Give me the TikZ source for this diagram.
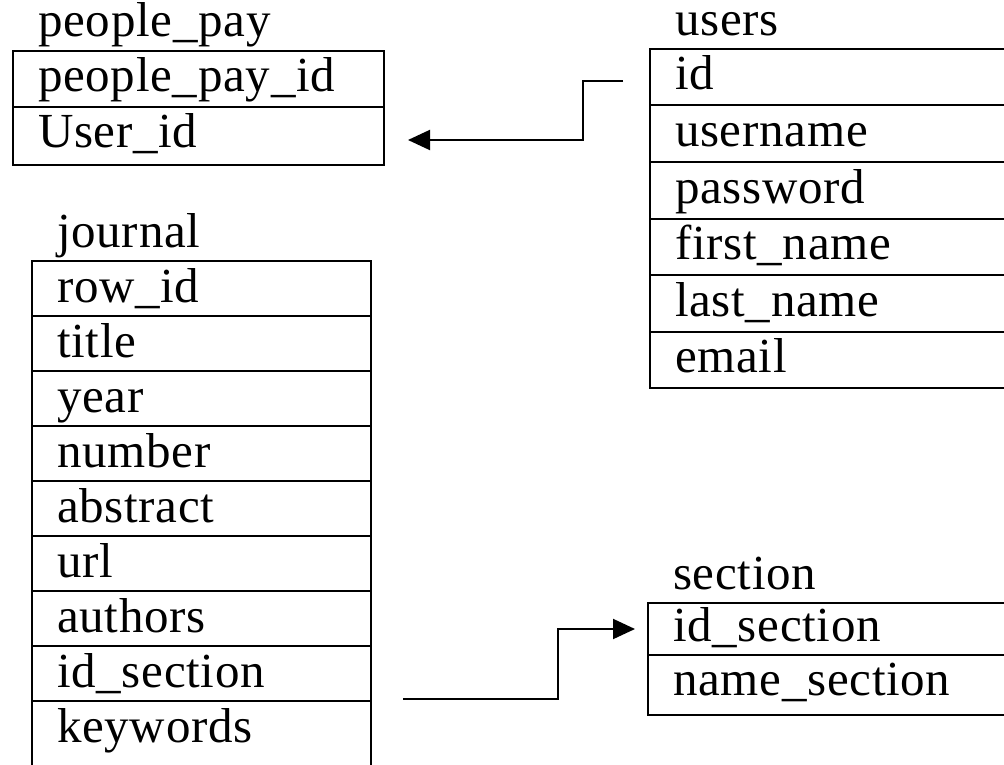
\documentclass[tikz,border=0pt]{standalone}
\usepackage{fontspec}
\setmainfont{Liberation Serif}[LetterSpace=1.5]
\usetikzlibrary{positioning,arrows.meta}

\tikzset{
  tabname/.style={anchor=base west, inner sep=0pt, font=\fontsize{49}{56}\selectfont},
  field/.style={draw, line width=2pt, outer sep=0pt, inner xsep=25pt, inner ysep=0pt,
    text width=#1, align=left, text height=41pt, text depth=15pt,
    font=\fontsize{49}{56}\selectfont},
  fk/.style={line width=2pt, -{Triangle[length=22pt,width=20pt]}},
}

\begin{document}
\begin{tikzpicture}[x=1pt, y=-1pt]
  \useasboundingbox (0,0) rectangle (1004,765);

  % people_pay
  \node[field=321pt, anchor=north west] (ppid) at (13,51) {people\_pay\_id} ; %
  \node[field=321pt, below=0pt of ppid, text depth=17pt] (puser) {User\_id} ; %
  \node[tabname] (ppay) at ([xshift=25pt, yshift=14pt]ppid.north west) {people\_pay} ; %

  % users
  \node[field=350pt, anchor=north west, text depth=15.5pt] (uid) at (650,49) {id} ; %
  \node[field=350pt, below=0pt of uid, text depth=15.5pt] (uname) {username} ; %
  \node[field=350pt, below=0pt of uname, text depth=15.5pt] (upass) {password} ; %
  \node[field=350pt, below=0pt of upass, text depth=15.5pt] (ufirst) {first\_name} ; %
  \node[field=350pt, below=0pt of ufirst, text depth=15.5pt] (ulast) {last\_name} ; %
  \node[field=350pt, below=0pt of ulast, text depth=15.5pt] (umail) {email} ; %
  \node[tabname] (users) at ([xshift=25pt, yshift=13pt]uid.north west) {users} ; %

  % journal
  \node[field=289pt, anchor=north west, text depth=14pt] (jrow) at (32,261) {row\_id} ; %
  \node[field=289pt, below=0pt of jrow, text depth=14pt] (jtitle) {title} ; %
  \node[field=289pt, below=0pt of jtitle, text depth=14pt] (jyear) {year} ; %
  \node[field=289pt, below=0pt of jyear, text depth=14pt] (jnum) {number} ; %
  \node[field=289pt, below=0pt of jnum, text depth=14pt] (jabs) {abstract} ; %
  \node[field=289pt, below=0pt of jabs, text depth=14pt] (jurl) {url} ; %
  \node[field=289pt, below=0pt of jurl, text depth=14pt] (jauth) {authors} ; %
  \node[field=289pt, below=0pt of jauth, text depth=14pt] (jids) {id\_section} ; %
  \node[field=289pt, below=0pt of jids, text depth=30pt] (jkey) {keywords} ; %
  \node[tabname] (journal) at ([xshift=25pt, yshift=14pt]jrow.north west) {journal} ; %

  % section
  \node[field=350pt, anchor=north west, text height=38pt, text depth=14pt] (sid) at (648,603) {id\_section} ; %
  \node[field=350pt, below=0pt of sid, text height=40pt, text depth=20pt] (sname) {name\_section} ; %
  \node[tabname] (section) at ([xshift=25pt, yshift=14pt]sid.north west) {section} ; %

  % keys
  \draw[fk] ([xshift=-27pt, yshift=-4pt]uid.west) -- ++(-40,0) |- ([xshift=24pt, yshift=-4pt]puser.east);
  \draw[fk] ([xshift=32pt, yshift=-25pt]jids.east) -- ++(155,0) |- ([xshift=-13pt]sid.west);

\end{tikzpicture}
\end{document}
